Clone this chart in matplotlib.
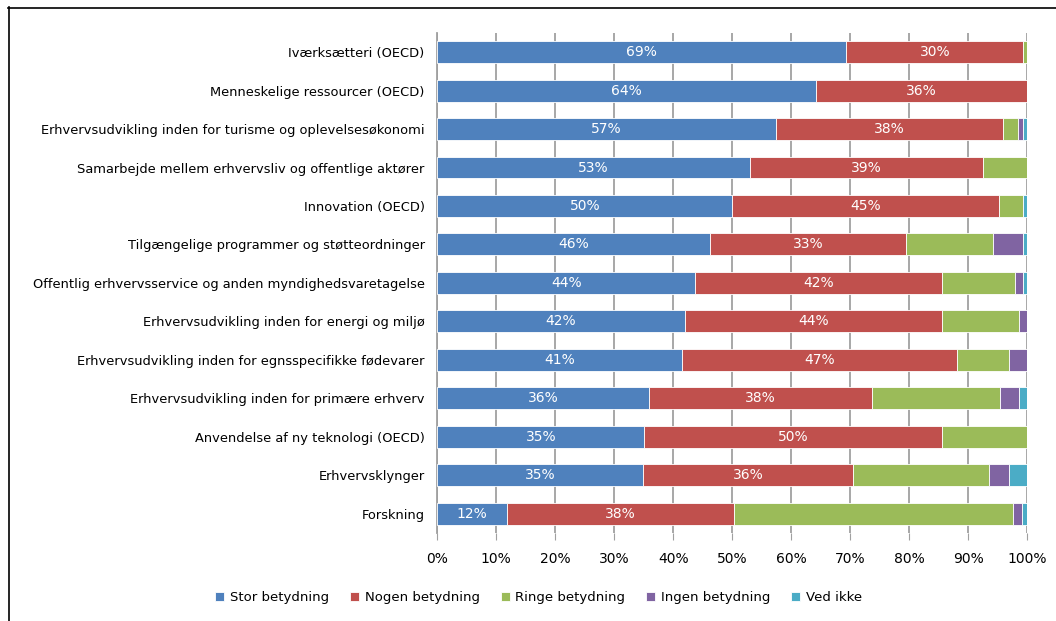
import matplotlib.pyplot as plt
from matplotlib.lines import Line2D
import numpy as np

categories = [
    "Iværksætteri (OECD)",
    "Menneskelige ressourcer (OECD)",
    "Erhvervsudvikling inden for turisme og oplevelsesøkonomi",
    "Samarbejde mellem erhvervsliv og offentlige aktører",
    "Innovation (OECD)",
    "Tilgængelige programmer og støtteordninger",
    "Offentlig erhvervsservice og anden myndighedsvaretagelse",
    "Erhvervsudvikling inden for energi og miljø",
    "Erhvervsudvikling inden for egnsspecifikke fødevarer",
    "Erhvervsudvikling inden for primære erhverv",
    "Anvendelse af ny teknologi (OECD)",
    "Erhvervsklynger",
    "Forskning",
]

stor = [69.3, 64.1, 57.4, 53.0, 50.0, 46.3, 43.7, 41.9, 41.4, 35.8, 35.1, 34.9, 11.9]
nogen = [30.0, 35.9, 38.4, 39.4, 45.1, 33.2, 41.9, 43.7, 46.7, 37.9, 50.4, 35.6, 38.4]
ringe = [0.7, 0.0, 2.6, 7.6, 4.2, 14.7, 12.2, 13.0, 8.7, 21.6, 14.5, 22.9, 47.3]
ingen = [0.0, 0.0, 0.8, 0.0, 0.0, 5.1, 1.5, 1.4, 3.2, 3.3, 0.0, 3.4, 1.5]
ved_ikke = [0.0, 0.0, 0.8, 0.0, 0.7, 0.7, 0.7, 0.0, 0.0, 1.4, 0.0, 3.2, 0.9]

series = [
    ("Stor betydning", stor, "#4F81BD"),
    ("Nogen betydning", nogen, "#C0504D"),
    ("Ringe betydning", ringe, "#9BBB59"),
    ("Ingen betydning", ingen, "#8064A2"),
    ("Ved ikke", ved_ikke, "#4BACC6"),
]

plt.rcParams['font.family'] = ['DejaVu Sans']

fig = plt.figure(figsize=(10.56, 6.21), dpi=100)
ax = fig.add_axes([0.414, 0.142, 0.559, 0.805])

# chart frame: top and left edge only
fig.add_artist(Line2D([8 / 1056, 1], [1 - 7.5 / 621, 1 - 7.5 / 621],
                      transform=fig.transFigure, color="black", linewidth=1.2))
fig.add_artist(Line2D([8.5 / 1056, 8.5 / 1056], [0, 1 - 7 / 621],
                      transform=fig.transFigure, color="black", linewidth=1.2))

y = np.arange(len(categories))
left = np.zeros(len(categories))
for name, vals, color in series:
    vals = np.array(vals)
    bars = ax.barh(y, vals, left=left, height=0.57, color=color,
                   edgecolor="white", linewidth=0.6, label=name, zorder=3)
    if name in ("Stor betydning", "Nogen betydning"):
        for b, v in zip(bars, vals):
            ax.text(b.get_x() + b.get_width() / 2, b.get_y() + b.get_height() / 2,
                    "{:.0f}%".format(v), color="white", ha="center", va="center",
                    fontsize=10, zorder=4)
    left += vals

ax.set_xlim(0, 100)
ax.set_ylim(len(categories) - 0.5, -0.5)
ax.set_yticks(y)
ax.set_yticklabels(categories, fontsize=9.4)
ax.set_xticks(np.arange(0, 101, 10))
ax.set_xticklabels(["{}%".format(t) for t in range(0, 101, 10)], fontsize=10)
ax.tick_params(axis="y", length=0, pad=9)
ax.tick_params(axis="x", length=5, color="#A0A0A0", pad=9)
ax.grid(axis="x", color="#A0A0A0", linewidth=1.3, zorder=0)
for s in ["top", "right", "bottom"]:
    ax.spines[s].set_visible(False)
ax.spines["left"].set_color("#A0A0A0")
ax.spines["left"].set_linewidth(1.3)

fig.legend(loc="center", bbox_to_anchor=(0.51, 0.038), ncol=5, frameon=False,
           fontsize=9.5, handlelength=0.7, handleheight=0.7, handletextpad=0.4,
           columnspacing=1.6)

fig.savefig("out.png", dpi=100)
